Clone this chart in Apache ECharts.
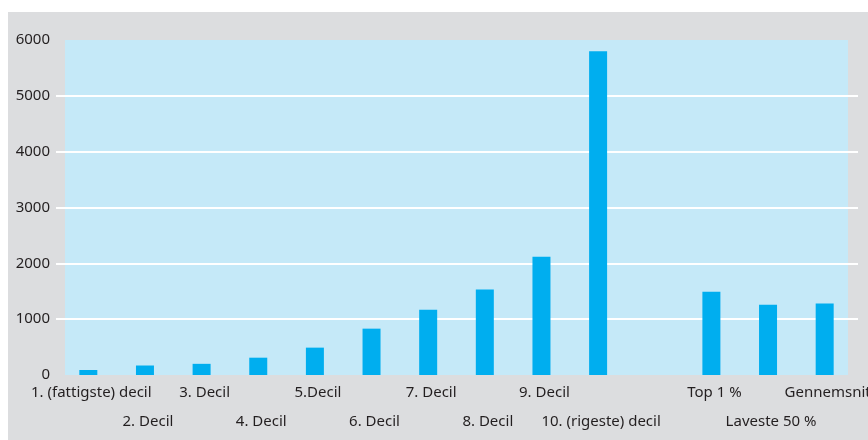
<!DOCTYPE html>
<html>
<head>
<meta charset="utf-8">
<script src="https://cdn.jsdelivr.net/npm/echarts@6/dist/echarts.min.js"></script>
<style>
  html, body { margin: 0; padding: 0; background: #fff; }
  #chart { width: 868px; height: 440px; }
</style>
</head>
<body>
<div id="chart"></div>
<script>
  // data
  var categories = ['1. (fattigste) decil', '2. Decil', '3. Decil', '4. Decil', '5.Decil',
    '6. Decil', '7. Decil', '8. Decil', '9. Decil', '10. (rigeste) decil', '',
    'Top 1 %', 'Laveste 50 %', 'Gennemsnit']
  var values = [90, 170, 200, 310, 490, 830, 1170, 1530, 2120, 5800, null, 1490, 1260, 1280]
  var yTicks = [0, 1000, 2000, 3000, 4000, 5000, 6000]
  // labels that sit on the second row
  var lowerRow = [1, 3, 5, 7, 9, 12]

  var textColor = '#231f20'
  var font = 'Noto Sans'

  var chart = echarts.init(document.getElementById('chart'))
  chart.setOption({
    backgroundColor: '#ffffff',
    animation: false,
    graphic: [
      { type: 'rect', z: -100, shape: { x: 8, y: 12, width: 860, height: 428 }, style: { fill: '#dcdddf' } },
      { type: 'rect', z: -99, shape: { x: 65, y: 40, width: 783, height: 335 }, style: { fill: '#c5e9f8' } }
    ],
    grid: [
      { left: 56, right: 10, top: 40, bottom: 65, outerBoundsMode: 'none' },
      { left: 60, right: 15, top: 40, bottom: 65, outerBoundsMode: 'none' }
    ],
    xAxis: [
      { gridIndex: 0, type: 'value', show: false },
      {
        gridIndex: 1,
        type: 'category',
        data: categories,
        axisLine: { show: false },
        axisTick: { show: false },
        axisLabel: {
          interval: 0,
          margin: 3,
          color: textColor,
          fontFamily: font,
          fontSize: 15,
          lineHeight: 29,
          verticalAlign: 'top',
          padding: [0, 0, 0, 6],
          formatter: function (v, i) {
            return lowerRow.indexOf(i) >= 0 ? '\n' + v : v
          }
        }
      }
    ],
    yAxis: [
      {
        gridIndex: 0,
        type: 'value',
        min: yTicks[0],
        max: yTicks[yTicks.length - 1],
        interval: 1000,
        axisLine: { show: false },
        axisTick: { show: false },
        axisLabel: {
          margin: 6,
          color: textColor,
          fontFamily: font,
          fontSize: 15,
          formatter: function (v) { return String(v) }
        },
        splitLine: { show: true, showMinLine: false, showMaxLine: false, lineStyle: { color: '#ffffff', width: 2 } }
      },
      {
        gridIndex: 1,
        type: 'value',
        min: yTicks[0],
        max: yTicks[yTicks.length - 1],
        show: false,
        splitLine: { show: false }
      }
    ],
    series: [
      {
        type: 'bar',
        xAxisIndex: 1,
        yAxisIndex: 1,
        barWidth: 18,
        itemStyle: { color: '#00aeef' },
        data: values
      }
    ]
  })
</script>
</body>
</html>
